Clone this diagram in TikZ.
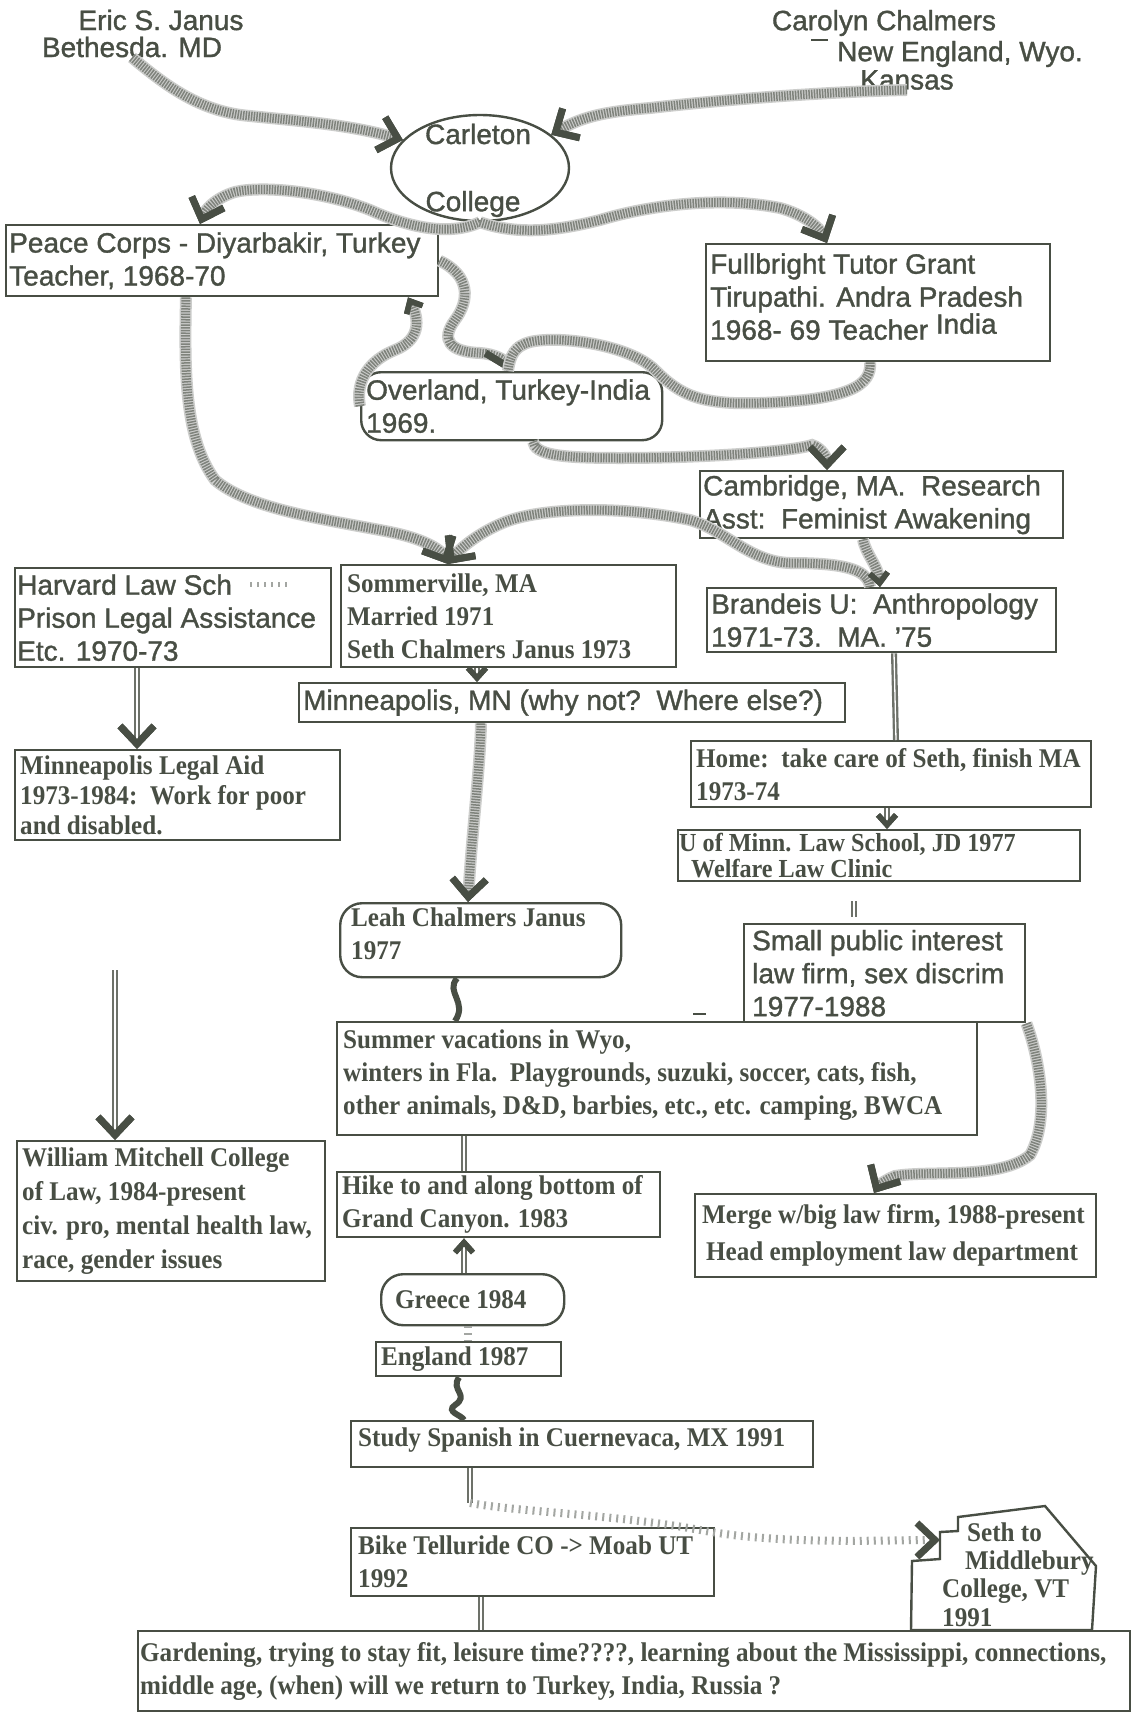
\documentclass[tikz,border=0pt]{standalone}
\usepackage{fontspec}
\usetikzlibrary{shapes.geometric,arrows.meta}
\newfontfamily\sansfam{Liberation Sans}[UprightFeatures={FakeBold=1.2}]
\newfontfamily\seriffam{Liberation Serif}[UprightFont={* Bold}, FakeStretch=0.93]
\newcommand\fsans{\sansfam\fontsize{28}{33}\selectfont}
\newcommand\fserif{\seriffam\fontsize{27}{33}\selectfont}
\newcommand\fserifT{\seriffam\fontsize{27}{30}\selectfont}
\newcommand\fserifU{\seriffam\fontsize{26}{26}\selectfont}
\definecolor{ink}{RGB}{72,78,68}
\begin{document}
\begin{tikzpicture}[x=1pt,y=-1pt,
  box/.style={draw=ink, line width=2.4pt, anchor=north west, inner sep=0pt},
  txt/.style={anchor=west, align=left, inner sep=0pt, text=ink},
  lab/.style={inner sep=0pt, text=ink, font=\fsans},
  spray/.style={draw=ink!70, line width=9pt, dash pattern=on 1.5pt off 1.2pt,
     preaction={draw=ink!28, line width=12pt, solid}},
  dotspray/.style={draw=ink!50, line width=8pt, dash pattern=on 2pt off 5pt},
  stripes/.style={draw=ink!80, line width=6pt, postaction={draw=white, line width=1.3pt}},
  vtip/.style={-{Straight Barb[length=18pt,width=34pt,line width=7pt,color=ink]}},
  btip/.style={-{Straight Barb[length=10pt,width=18pt,line width=5.5pt,color=ink]}},
  rbtip/.style={{Straight Barb[length=10pt,width=18pt,line width=5.5pt,color=ink]}-},
  smallmark/.style={draw=ink, line width=2pt}
]
\useasboundingbox (0,0) rectangle (1135,1713);
\fill[white] (0,0) rectangle (1135,1713);

% ---------- top labels ----------
\node[lab] (eric) at (161,20) {Eric S. Janus};
\node[lab] (bethesda) at (132,47) {Bethesda. MD};
\node[lab] (carolyn) at (884,23) {Carolyn Chalmers};
\node[lab] (newengland) at (960,54) {New England, Wyo.};
\node[lab] (kansas) at (907,80) {Kansas};
\coordinate (cu1) at (811,40); \coordinate (cu2) at (828,40);
\draw[smallmark] (cu1) -- (cu2);

% ---------- Carleton ----------
\node[draw=ink, line width=2.4pt, ellipse, minimum width=178pt, minimum height=106pt, inner sep=0pt] (carleton) at (480,168) {};
\node[lab] (carlA) at (478,134) {Carleton};
\node[lab] (carlB) at (473,204) {College};

% ---------- boxes ----------
\node[box, minimum width=432pt, minimum height=71pt] (pc) at (5,224) {};
\node[txt, font=\fsans] (pct) at ([xshift=4pt]pc.west) {Peace Corps - Diyarbakir, Turkey\\Teacher, 1968-70};

\node[box, minimum width=344pt, minimum height=117pt] (fb) at (705,243) {};
\node[txt, font=\fsans] (fbt) at ([xshift=5pt,yshift=6pt]fb.west) {Fullbright Tutor Grant\\Tirupathi. Andra Pradesh\\1968- 69 Teacher \raisebox{6pt}{India}};

\node[box, rounded corners=20pt, minimum width=301pt, minimum height=68pt] (ov) at (360,371) {};
\node[txt, font=\fsans] (ovt) at ([xshift=6pt]ov.west) {Overland, Turkey-India\\1969.};

\node[box, minimum width=363pt, minimum height=67pt] (cam) at (699,470) {};
\node[txt, font=\fsans] (camt) at ([xshift=4pt]cam.west) {Cambridge, MA.\ \ Research\\Asst:\ \ Feminist Awakening};

\node[box, minimum width=316pt, minimum height=99pt] (hv) at (14,567) {};
\node[txt, font=\fsans] (hvt) at ([xshift=3pt]hv.west) {Harvard Law Sch\\Prison Legal Assistance\\Etc. 1970-73};

\node[box, minimum width=335pt, minimum height=102pt] (som) at (340,564) {};
\node[txt, font=\fserif] (somt) at ([xshift=7pt]som.west) {Sommerville, MA\\Married 1971\\Seth Chalmers Janus 1973};

\node[box, minimum width=349pt, minimum height=64pt] (br) at (706,587) {};
\node[txt, font=\fsans] (brt) at ([xshift=5pt]br.west) {Brandeis U:\ \ Anthropology\\1971-73.\ \ MA. ’75};

\node[box, minimum width=546pt, minimum height=39pt] (mn) at (298,682) {};
\node[txt, font=\fsans] (mnt) at ([xshift=5pt]mn.west) {Minneapolis, MN (why not?\ \ Where else?)};

\node[box, minimum width=325pt, minimum height=90pt] (la) at (14,749) {};
\node[txt, font=\fserifT] (lat) at ([xshift=6pt]la.west) {Minneapolis Legal Aid\\1973-1984:\ \ Work for poor\\and disabled.};

\node[box, minimum width=400pt, minimum height=66pt] (home) at (690,740) {};
\node[txt, font=\fserif] (homet) at ([xshift=6pt]home.west) {Home:\ \ take care of Seth, finish MA\\1973-74};

\node[box, minimum width=402pt, minimum height=51pt] (um) at (677,829) {};
\node[txt, font=\fserifU] (umt) at ([xshift=2pt]um.west) {U of Minn. Law School, JD 1977\\\hspace*{12pt}Welfare Law Clinic};

\node[box, rounded corners=22pt, minimum width=281pt, minimum height=74pt] (leah) at (339,902) {};
\node[txt, font=\fserif] (leaht) at ([xshift=12pt,yshift=6pt]leah.west) {Leah Chalmers Janus\\1977};

\node[box, minimum width=281pt, minimum height=98pt] (spi) at (743,923) {};
\node[txt, font=\fsans] (spit) at ([xshift=9pt]spi.west) {Small public interest\\law firm, sex discrim\\1977-1988};

\node[box, minimum width=640pt, minimum height=113pt] (sum) at (336,1021) {};
\node[txt, font=\fserif] (sumt) at ([xshift=7pt,yshift=4pt]sum.west) {Summer vacations in Wyo,\\winters in Fla.\ \ Playgrounds, suzuki, soccer, cats, fish,\\other animals, D\&D, barbies, etc., etc. camping, BWCA};
\coordinate (sd1) at (693,1014); \coordinate (sd2) at (706,1014);
\draw[smallmark] (sd1) -- (sd2);

\node[box, minimum width=308pt, minimum height=140pt] (wm) at (16,1140) {};
\node[txt, font=\fserif] (wmt) at ([xshift=6pt]wm.west) {William Mitchell College\\[1pt]of Law, 1984-present\\[1pt]civ. pro, mental health law,\\[1pt]race, gender issues};

\node[box, minimum width=323pt, minimum height=65pt] (hike) at (336,1171) {};
\node[txt, font=\fserif] (hiket) at ([xshift=6pt]hike.west) {Hike to and along bottom of\\Grand Canyon. 1983};

\node[box, minimum width=401pt, minimum height=83pt] (merge) at (694,1193) {};
\node[txt, font=\fserif] (merget) at ([xshift=8pt]merge.west) {Merge w/big law firm, 1988-present\\[4pt]\hspace*{4pt}Head employment law department};

\node[box, rounded corners=22pt, minimum width=183pt, minimum height=51pt] (gr) at (380,1273) {};
\node[txt, font=\fserif] (grt) at ([xshift=15pt]gr.west) {Greece 1984};

\node[box, minimum width=185pt, minimum height=34pt] (en) at (375,1341) {};
\node[txt, font=\fserif] (ent) at ([xshift=6pt]en.west) {England 1987};

\node[box, minimum width=462pt, minimum height=46pt] (sp) at (350,1420) {};
\node[txt, font=\fserif] (spt) at ([xshift=8pt,yshift=4pt]sp.west) {Study Spanish in Cuernevaca, MX 1991};

\node[box, minimum width=363pt, minimum height=68pt] (bk) at (350,1527) {};
\node[txt, font=\fserif] (bkt) at ([xshift=8pt]bk.west) {Bike Telluride CO -> Moab UT\\1992};

% Seth polygon
\draw[draw=ink, line width=2.4pt] (958,1517) -- (1045,1506) -- (1096,1566) -- (1092,1630) -- (911,1630) -- (912,1561) -- (940,1559) -- (940,1532) -- (958,1531) -- cycle;
\coordinate (sethL) at (940,1540);
\node[txt, font=\fserif, anchor=base west] (seth1) at (967,1541) {Seth to};
\node[txt, font=\fserif, anchor=base west] (seth2) at (965,1569) {Middlebury};
\node[txt, font=\fserif, anchor=base west] (seth3) at (942,1597) {College, VT};
\node[txt, font=\fserif, anchor=base west] (seth4) at (942,1626) {1991};

\node[box, minimum width=992pt, minimum height=80pt] (gd) at (137,1630) {};
\node[txt, font=\fserif] (gdt) at ([xshift=3pt]gd.west) {Gardening, trying to stay fit, leisure time????, learning about the Mississippi, connections,\\middle age, (when) will we return to Turkey, India, Russia ?};

% ---------- connectors ----------
\draw[spray, vtip] (bethesda.south) .. controls (165,85) and (200,112) .. (250,116) .. controls (310,122) and (350,125) .. (carleton.160);
\draw[spray, vtip] (kansas.south) .. controls (820,92) and (720,100) .. (650,108) .. controls (600,112) and (580,118) .. (carleton.25);
\draw[spray, vtip] (carleton.south) .. controls (450,236) and (410,228) .. (370,210) .. controls (320,190) and (260,186) .. (235,192) .. controls (215,198) and (205,210) .. (200,0 |- pc.north);
\draw[spray, vtip] (carleton.south) .. controls (520,236) and (560,230) .. (600,220) .. controls (650,205) and (720,196) .. (780,208) .. controls (805,215) and (820,228) .. (827,0 |- fb.north);
\draw[spray, vtip] (pc.east) .. controls (470,275) and (470,300) .. (455,320) .. controls (440,340) and (450,352) .. (480,353) .. controls (495,354) and (505,360) .. (508,0 |- ov.north);
\draw[spray, btip] (ov.west) .. controls (355,380) and (370,360) .. (395,350) .. controls (420,340) and (420,320) .. (408,0 |- pc.south);
\draw[spray] (870,0 |- fb.south) .. controls (872,385) and (850,400) .. (760,403) .. controls (700,405) and (680,395) .. (655,370) .. controls (630,345) and (560,335) .. (530,342) .. controls (515,346) and (510,355) .. (508,0 |- ov.north);
\draw[spray, vtip] (533,0 |- ov.south) .. controls (535,455) and (560,458) .. (620,458) .. controls (700,458) and (790,452) .. (812,445) .. controls (822,448) and (827,458) .. (827,0 |- cam.north);
\draw[spray, vtip] (186,0 |- pc.south) .. controls (184,380) and (186,440) .. (215,480) .. controls (250,510) and (330,520) .. (390,532) .. controls (420,538) and (440,548) .. (448,0 |- som.north);
\draw[spray, vtip] (870,0 |- br.north) .. controls (868,568) and (840,563) .. (790,563) .. controls (750,562) and (725,530) .. (690,520) .. controls (620,505) and (540,508) .. (505,522) .. controls (480,532) and (460,548) .. (448,0 |- som.north);
\draw[spray, btip] (863,0 |- cam.south) .. controls (866,555) and (878,565) .. (880,0 |- br.north);
\draw[stripes] (894,0 |- br.south) -- (896,0 |- home.north);
\draw[stripes, btip] (887,0 |- home.south) -- (887,0 |- um.north);
\coordinate (n1) at (854,901); \coordinate (n2) at (854,917);
\draw[stripes] (n1) -- (n2);
\draw[stripes, btip] (477,0 |- som.south) -- (477,0 |- mn.north);
\draw[stripes, vtip] (137,0 |- hv.south) -- (137,0 |- la.north);
\coordinate (hm1) at (250,584); \coordinate (hm2) at (290,584);
\draw[dotspray, line width=5pt] (hm1) -- (hm2);
\draw[spray, vtip] (481,0 |- mn.south) .. controls (480,770) and (472,830) .. (468,0 |- leah.north);
\draw[draw=ink, line width=6pt] (457,0 |- leah.south) .. controls (445,992) and (468,1002) .. (455,0 |- sum.north);
\coordinate (s0) at (115,970);
\draw[stripes, vtip] (s0) -- (115,0 |- wm.north);
\draw[stripes] (464,0 |- sum.south) -- (464,0 |- hike.north);
\draw[spray, vtip] (spi.south east) .. controls (1040,1060) and (1050,1120) .. (1030,1155) .. controls (1000,1180) and (930,1170) .. (895,1176) .. controls (885,1180) and (878,1186) .. (874,0 |- merge.north);
\draw[stripes, rbtip] (464,0 |- hike.south) -- (464,0 |- gr.north);
\draw[dotspray] (468,0 |- gr.south) -- (468,0 |- en.north);
\draw[draw=ink, line width=6pt] (459,0 |- en.south) .. controls (450,1390) and (470,1395) .. (455,1405) .. controls (445,1412) and (462,1415) .. (464,0 |- sp.north);
\draw[stripes] (470,0 |- sp.south) -- (470,1503);
\coordinate (y0) at (470,1503);
\draw[dotspray, vtip] (y0) .. controls (520,1512) and (620,1515) .. (700,1530) .. controls (780,1545) and (880,1540) .. (sethL);
\draw[stripes] (481,0 |- bk.south) -- (481,0 |- gd.north);
\end{tikzpicture}
\end{document}
